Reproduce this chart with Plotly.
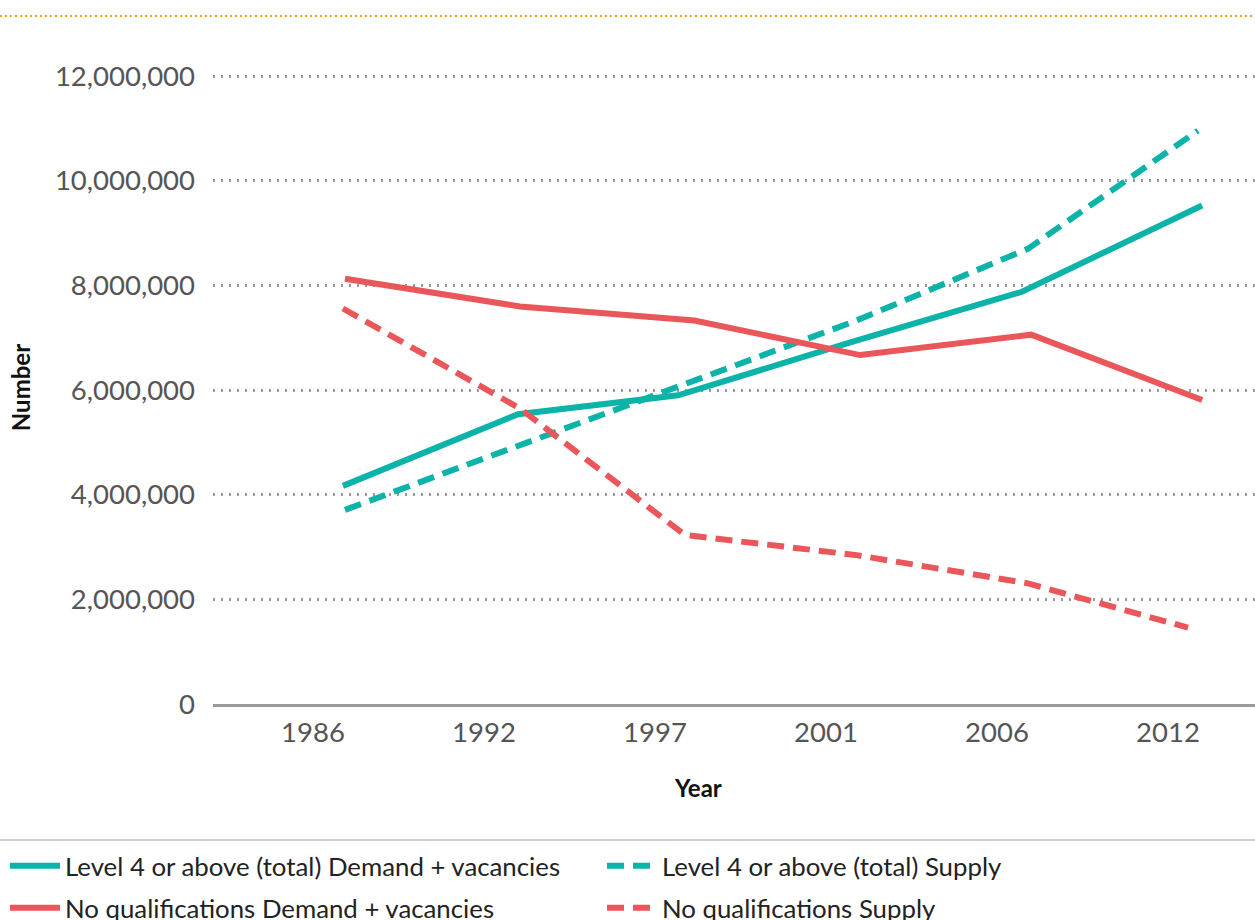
import plotly.graph_objects as go

# Tick labels (category axis shown as evenly spaced labels)
year_labels = ["1986", "1992", "1997", "2001", "2006", "2012"]
year_slots = [0, 1, 2, 3, 4, 5]

# Each series' points sit at slightly different positions along the slots
l4_demand_x = [0.175, 1.199, 2.135, 3.152, 4.146, 5.199]
l4_demand_y = [4170000, 5540000, 5900000, 6920000, 7880000, 9530000]

l4_supply_x = [0.187, 1.21, 2.16, 3.17, 4.18, 5.175]
l4_supply_y = [3710000, 4950000, 6080000, 7320000, 8700000, 10960000]

nq_demand_x = [0.187, 1.21, 2.23, 3.2, 4.2, 5.2]
nq_demand_y = [8130000, 7600000, 7330000, 6670000, 7060000, 5810000]

nq_supply_x = [0.175, 1.21, 2.175, 3.17, 4.175, 5.117]
nq_supply_y = [7560000, 5650000, 3230000, 2850000, 2310000, 1460000]

y_ticks = [0, 2000000, 4000000, 6000000, 8000000, 10000000, 12000000]
y_tick_labels = ["0", "2,000,000", "4,000,000", "6,000,000", "8,000,000", "10,000,000", "12,000,000"]

TEAL = "#0BB3A8"
RED = "#E9575B"
FONT = "Lato"
DASH = "17px,9px"

fig = go.Figure()
fig.add_trace(go.Scatter(x=l4_demand_x, y=l4_demand_y, mode="lines",
                         name="Level 4 or above (total) Demand + vacancies",
                         line=dict(color=TEAL, width=6), legend="legend"))
fig.add_trace(go.Scatter(x=l4_supply_x, y=l4_supply_y, mode="lines",
                         name="Level 4 or above (total) Supply",
                         line=dict(color=TEAL, width=6, dash=DASH), legend="legend"))
fig.add_trace(go.Scatter(x=nq_demand_x, y=nq_demand_y, mode="lines",
                         name="No qualifications Demand + vacancies",
                         line=dict(color=RED, width=6), legend="legend2"))
fig.add_trace(go.Scatter(x=nq_supply_x, y=nq_supply_y, mode="lines",
                         name="No qualifications Supply",
                         line=dict(color=RED, width=6, dash=DASH), legend="legend2"))

W, H = 1255, 920
ml, mr, mt, mb = 213, 0, 71, 216
pw = W - ml - mr
ph = H - mt - mb

def px_x(px):
    return (px - ml) / pw

def px_y(py):
    return (H - mb - py) / ph

legend_common = dict(orientation="h", xanchor="left", yanchor="middle",
                     font=dict(family=FONT, size=25.8, color="#222222"),
                     entrywidth=532, entrywidthmode="pixels",
                     itemwidth=50, borderwidth=0, bgcolor="rgba(0,0,0,0)")

fig.update_layout(
    width=W, height=H,
    margin=dict(l=ml, r=mr, t=mt, b=mb, pad=0, autoexpand=False),
    paper_bgcolor="white", plot_bgcolor="white",
    font=dict(family=FONT, size=26, color="#555555"),
    showlegend=True,
    legend=dict(x=px_x(5), y=px_y(866), **legend_common),
    legend2=dict(x=px_x(5), y=px_y(908), **legend_common),
    shapes=[
        dict(type="line", xref="paper", yref="paper",
             x0=px_x(0), x1=px_x(W), y0=px_y(16), y1=px_y(16),
             line=dict(color="#F5A31A", width=2, dash="2px,3px")),
        dict(type="line", xref="paper", yref="paper",
             x0=px_x(0), x1=px_x(W), y0=px_y(840), y1=px_y(840),
             line=dict(color="#D0D0D0", width=2)),
    ],
    annotations=[
        dict(text="<b>Year</b>", xref="paper", yref="paper",
             x=px_x(698), y=px_y(787), xanchor="center", yanchor="middle",
             showarrow=False, font=dict(family=FONT, size=24, color="#111111")),
    ],
)

fig.update_xaxes(
    range=[(ml - 313) / 171, (W - mr - 313) / 171],
    tickmode="array", tickvals=year_slots, ticktext=year_labels,
    showgrid=False, zeroline=False,
    showline=True, linecolor="#999999", linewidth=3,
    ticks="", ticklabelstandoff=2,
    tickfont=dict(family=FONT, size=27.5, color="#555555"),
)
fig.update_yaxes(
    range=[0, 12100000],
    tickmode="array", tickvals=y_ticks, ticktext=y_tick_labels,
    showgrid=True, gridcolor="#9A9A9A", gridwidth=2.5, griddash="2px,6px",
    zeroline=False, showline=False, ticks="",
    ticklabelstandoff=17,
    tickfont=dict(family=FONT, size=27.5, color="#555555"),
    title=dict(text="<b>Number</b>", font=dict(family=FONT, size=24, color="#111111"),
               standoff=17),
)

fig.write_html("out.html", config={"displayModeBar": False},
               post_script="document.body.style.margin='0px';")
